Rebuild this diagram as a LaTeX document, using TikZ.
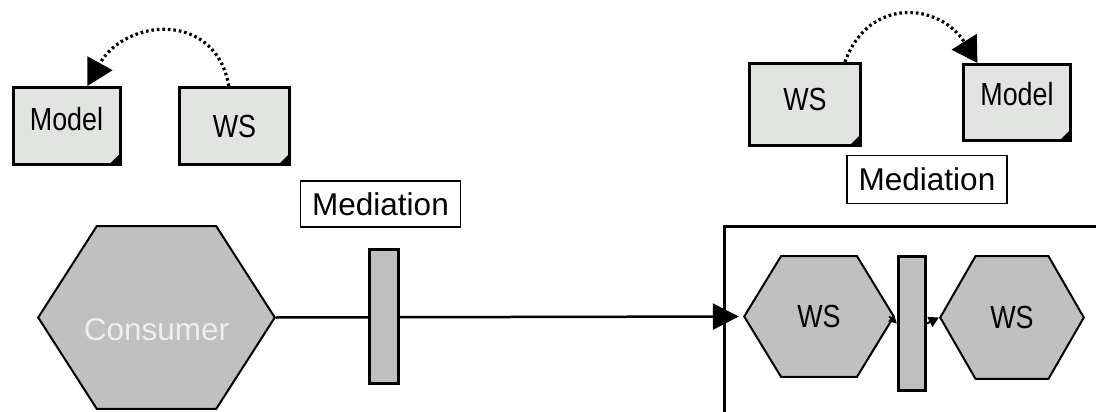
\documentclass[tikz,border=0pt]{standalone}
\usepackage{fontspec}
\setmainfont{Liberation Sans}
\newfontfamily\narrowsans{Liberation Sans}[FakeStretch=0.84]
\usetikzlibrary{arrows.meta,calc}

\definecolor{docfill}{RGB}{226,228,226}
\definecolor{svcfill}{RGB}{192,192,192}
\definecolor{svctext}{RGB}{238,238,238}

\tikzset{
  % page-like document with a dark folded bottom-right corner
  doc/.style={rectangle, draw, line width=3pt, fill=docfill, inner sep=0pt,
    font=\narrowsans\fontsize{32}{36}\selectfont,
    path picture={
      \fill[black] ($(path picture bounding box.south east)+(-11pt,0pt)$)
        -- (path picture bounding box.south east)
        -- ++(0pt,11pt) -- cycle;
    }},
  % hexagonal service drawn inside its rectangular node
  svc/.style={rectangle, inner sep=0pt,
    font=\narrowsans\fontsize{32}{36}\selectfont,
    path picture={
      \filldraw[fill=svcfill, draw=black, line width=2pt]
        ($(path picture bounding box.west)+(1.2pt,0pt)$)
        -- ($(path picture bounding box.north west)!0.25!(path picture bounding box.north east)+(0pt,-1.2pt)$)
        -- ($(path picture bounding box.north west)!0.75!(path picture bounding box.north east)+(0pt,-1.2pt)$)
        -- ($(path picture bounding box.east)+(-1.2pt,0pt)$)
        -- ($(path picture bounding box.south west)!0.75!(path picture bounding box.south east)+(0pt,1.2pt)$)
        -- ($(path picture bounding box.south west)!0.25!(path picture bounding box.south east)+(0pt,1.2pt)$)
        -- cycle;
    }},
  medlabel/.style={draw, line width=1.5pt, fill=white, inner sep=0pt,
    font=\fontsize{31.5}{36}\selectfont},
  medbar/.style={draw, line width=3pt, fill=svcfill, inner sep=0pt},
  dotline/.style={line width=3.2pt, dash pattern=on 2.6pt off 2.9pt},
  flow/.style={line width=2.5pt},
}

\begin{document}
\begin{tikzpicture}[x=1pt,y=1pt]
\useasboundingbox (0,0) rectangle (1096,-412);

% documents: models and web services
\node[doc, minimum width=107pt, minimum height=77pt, text depth=15pt] (modelL) at (66.5,-126) {Model};
\node[doc, minimum width=110pt, minimum height=77pt] (wsL) at (234.5,-126) {WS};
\node[doc, minimum width=111pt, minimum height=82pt, text depth=11pt] (wsR) at (805,-104.5) {WS};
\node[doc, minimum width=107pt, minimum height=76pt, text depth=17pt] (modelR) at (1017,-102.5) {Model};

% mediation captions
\node[medlabel, minimum width=160pt, minimum height=46pt] (medL) at (380.5,-204) {Mediation};
\node[medlabel, minimum width=160pt, minimum height=48pt] (medR) at (927,-179.5) {Mediation};

% hosting container (continues past the page edge)
\node[draw, line width=2.5pt, anchor=north west, minimum width=420pt, minimum height=220pt] (host) at (723,-225) {};

% services
\node[svc, minimum width=239pt, minimum height=185pt, text=svctext,
      font=\fontsize{31.5}{36}\selectfont, text height=45pt, text depth=0pt] (consumer) at (156.5,-317.5) {Consumer};
\node[svc, minimum width=152pt, minimum height=123pt] (ws1) at (819,-316.5) {WS};
\node[svc, minimum width=146pt, minimum height=125pt] (ws2) at (1012,-317.5) {WS};

% consumer request into the hosted service
\draw[flow, -{Triangle[length=26pt,width=26pt]}, shorten >=4pt] (consumer.east) -- (ws1.west);

% mediation bars
\node[medbar, minimum width=29pt, minimum height=134pt] (bar1) at (384,-316.5) {};
\node[medbar, minimum width=27pt, minimum height=134pt] (bar2) at (912,-323.5) {};

\draw[line width=2pt, -{Triangle[length=8pt,width=8pt]}] ($(ws1.east)+(-6pt,0pt)$) -- (bar2.west);
\draw[line width=2pt, -{Triangle[length=10pt,width=11pt]}] (bar2.east) -- (ws2.west);

% model derivation arcs
\draw[dotline, -{Triangle[length=26pt,width=28pt]}]
  ($(wsL.north west)!0.45!(wsL.north east)$) to[out=100,in=61,looseness=1.4]
  ($(modelL.north west)!0.69!(modelL.north east)$);
\draw[dotline, -{Triangle[length=25pt,width=29pt]}]
  ($(wsR.north west)!0.85!(wsR.north east)$) to[out=70,in=122,looseness=1.36]
  ($(modelR.north west)!0.14!(modelR.north east)$);
\end{tikzpicture}
\end{document}
